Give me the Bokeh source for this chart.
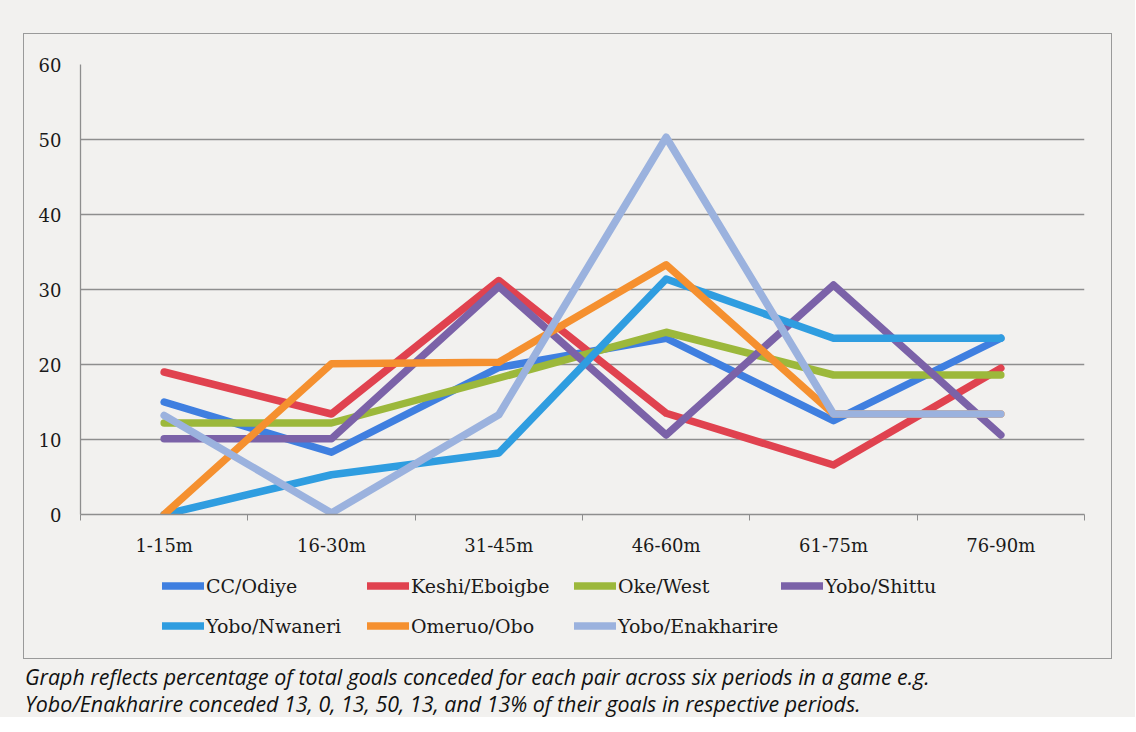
from bokeh.plotting import figure
from bokeh.models import Range1d, FixedTicker, Legend, LegendItem, Div
from bokeh.layouts import column
from bokeh.embed import file_html
from bokeh.resources import INLINE

# ---------------- data ----------------
periods = ["1-15m", "16-30m", "31-45m", "46-60m", "61-75m", "76-90m"]
pairs = ["CC/Odiye", "Keshi/Eboigbe", "Oke/West", "Yobo/Shittu",
         "Yobo/Nwaneri", "Omeruo/Obo", "Yobo/Enakharire"]
cc_odiye = [15, 8.3, 19.6, 23.5, 12.5, 23.5]
keshi_eboigbe = [19, 13.4, 31.2, 13.5, 6.6, 19.5]
oke_west = [12.2, 12.2, 18.2, 24.3, 18.6, 18.6]
yobo_shittu = [10.1, 10.1, 30.4, 10.6, 30.6, 10.6]
yobo_nwaneri = [0, 5.3, 8.2, 31.4, 23.5, 23.5]
omeruo_obo = [0, 20.1, 20.3, 33.3, 13.4, 13.4]
yobo_enakharire = [13.2, 0.2, 13.3, 50.3, 13.4, 13.4]
series = [cc_odiye, keshi_eboigbe, oke_west, yobo_shittu,
          yobo_nwaneri, omeruo_obo, yobo_enakharire]
colors = ["#3f7fe0", "#e0424f", "#9cb83b", "#7b62a8",
          "#2f9de0", "#f5902f", "#9bb2de"]
y_ticks = [0, 10, 20, 30, 40, 50, 60]
caption = ["Graph reflects percentage of total goals conceded for each pair across six periods in a game e.g.",
           "Yobo/Enakharire conceded 13, 0, 13, 50, 13, and 13% of their goals in respective periods."]

BG = "#f2f1ef"
GRID = "#8e8e8e"
SERIF = "DejaVu Serif"
LW = 7.5

xs = [i + 0.5 for i in range(len(periods))]

# ---------------- chart ----------------
p = figure(width=1087, height=524, output_backend="svg", toolbar_location=None,
           x_range=Range1d(0, len(periods)), y_range=Range1d(0, 60),
           min_border_left=56, min_border_right=27, min_border_top=30,
           min_border_bottom=44)
p.background_fill_color = BG
p.border_fill_color = BG
p.outline_line_color = None

p.xaxis.ticker = FixedTicker(ticks=xs, minor_ticks=list(range(len(periods) + 1)))
p.xaxis.major_label_overrides = {x: lab for x, lab in zip(xs, periods)}
p.xaxis.minor_tick_out = 6
p.xaxis.minor_tick_in = 0
p.xaxis.minor_tick_line_color = GRID
p.xaxis.major_label_standoff = 14
p.yaxis.ticker = FixedTicker(ticks=y_ticks)
p.yaxis.major_tick_out = 7
p.yaxis.major_tick_in = 0
p.yaxis.minor_tick_line_color = None
p.yaxis.major_label_standoff = 12
for ax in (p.xaxis, p.yaxis):
    ax.axis_line_color = GRID
    ax.axis_line_width = 1.3
    ax.major_tick_line_color = GRID if ax is p.yaxis else None
    ax.major_label_text_font = SERIF
    ax.major_label_text_font_size = "18px"
    ax.major_label_text_color = "#1a1a1a"
p.xgrid.grid_line_color = None
p.ygrid.ticker = FixedTicker(ticks=y_ticks)
p.ygrid.grid_line_color = GRID
p.ygrid.grid_line_width = 1.3

for vals, col in zip(series, colors):
    p.line(xs, vals, line_width=LW, line_color=col,
           line_join="round", line_cap="round")

# ---------------- legend strip ----------------
# same series drawn again, but outside this strip's visible x range:
# only their legend swatches show
pl = figure(width=1087, height=100, output_backend="svg", toolbar_location=None,
            x_range=Range1d(100, 101), y_range=Range1d(0, 60),
            min_border=0, x_axis_type=None, y_axis_type=None)
pl.background_fill_color = BG
pl.border_fill_color = BG
pl.outline_line_color = None
pl.grid.grid_line_color = None
leg_r = [pl.line(xs, vals, line_width=LW, line_color=col,
                 line_join="round", line_cap="round")
         for vals, col in zip(series, colors)]

# legend columns: (item indices, x offset from the aligned frame's left edge)
leg_cols = [([0, 4], 82), ([1, 5], 287), ([2, 6], 494), ([3], 701)]
for idx, lx in leg_cols:
    ly = 15 + 40 * (2 - len(idx))
    lg = Legend(items=[LegendItem(label=pairs[i], renderers=[leg_r[i]]) for i in idx],
                location=(lx, ly), margin=0, padding=0, spacing=5,
                glyph_width=42, glyph_height=35, label_height=35,
                label_standoff=2, border_line_color=None,
                background_fill_alpha=0,
                label_text_font=SERIF, label_text_font_size="19px",
                label_text_color="#1a1a1a")
    pl.add_layout(lg, "center")

box = column(p, pl, spacing=0, margin=(33, 0, 0, 23),
             styles={"border": "1px solid #9a9a9a"})

cap = Div(text=caption[0] + "<br>" + caption[1], width=1110,
          margin=(4, 0, 0, 25),
          styles={"font-family": "Open Sans", "font-style": "italic",
                  "font-size": "21.4px", "line-height": "27px", "color": "#111"})

layout = column(box, cap, styles={"background-color": BG})

html = file_html(layout, INLINE)
html = html.replace("<body>", '<body style="background-color:%s;">' % BG, 1)
open("out.html", "w").write(html)
